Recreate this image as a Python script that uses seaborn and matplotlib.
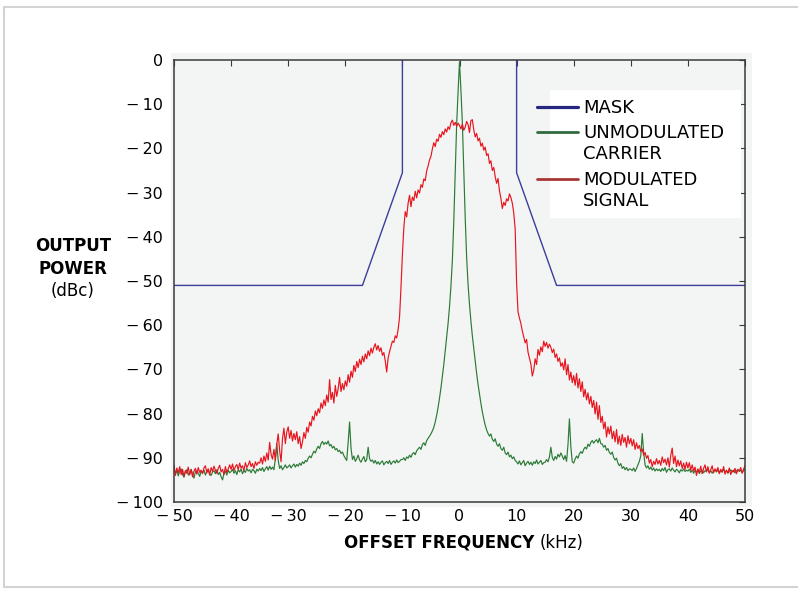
import numpy as np
import pandas as pd
import matplotlib
matplotlib.use("Agg")
import matplotlib.pyplot as plt
import seaborn as sns
from matplotlib.lines import Line2D
from matplotlib.patches import Rectangle

# ---------------- data ----------------
# offset frequency grid (kHz), 0.25 kHz spacing
freq_khz = np.round(np.arange(-50, 50.001, 0.25), 2)

# unmodulated carrier (dBc), 20 samples per 5 kHz row
carrier_dbc = [
    -92.4, -93.6, -92.8, -94.1, -93.0, -92.5, -93.8, -94.4, -93.1, -92.7, -93.9, -93.3, -92.6, -93.7, -94.6, -93.2, -92.9, -93.5, -94.2, -93.0,
    -93.4, -92.8, -93.9, -93.1, -92.6, -93.7, -94.0, -93.2, -92.9, -93.6, -92.7, -93.8, -93.3, -94.3, -95.0, -93.6, -93.0, -93.9, -92.8, -93.4,
    -93.1, -92.6, -93.5, -92.9, -93.8, -92.7, -93.2, -92.5, -93.6, -92.9, -93.3, -92.4, -93.0, -92.7, -93.4, -92.6, -92.9, -93.5, -92.6, -93.0,
    -92.4, -92.9, -92.2, -93.1, -92.5, -92.0, -92.8, -91.9, -92.6, -92.1, -92.7, -90.2, -86.8, -90.6, -92.4, -91.8, -92.7, -92.2, -91.6, -92.3,
    -92.0, -91.6, -92.3, -91.8, -91.4, -92.1, -91.5, -91.9, -91.2, -91.7, -90.9, -91.3, -90.6, -90.9, -90.1, -89.6, -90.0, -89.2, -88.5, -88.9,
    -88.0, -87.4, -87.9, -86.8, -86.3, -87.0, -86.5, -86.9, -86.2, -87.3, -87.0, -87.8, -87.4, -88.2, -87.9, -88.6, -88.3, -89.0, -88.7, -89.5,
    -90.1, -90.6, -86.5, -81.9, -87.8, -90.4, -89.6, -90.8, -90.2, -89.4, -90.5, -91.0, -90.3, -89.7, -90.9, -90.4, -87.6, -90.2, -90.8, -90.5,
    -91.2, -90.6, -91.4, -90.9, -91.5, -91.0, -90.7, -91.6, -91.1, -90.8, -91.3, -90.6, -91.5, -91.0, -90.7, -91.2, -90.5, -91.1, -90.8, -90.4,
    -90.4, -90.0, -90.6, -89.8, -90.1, -89.4, -89.9, -89.1, -88.8, -89.3, -88.4, -88.0, -87.6, -88.1, -87.0, -86.6, -87.2, -86.1, -85.6, -85.1,
    -84.6, -83.9, -83.1, -81.9, -80.4, -78.6, -76.5, -74.2, -71.6, -68.9, -65.8, -62.7, -59.6, -55.8, -51.2, -45.3, -36.5, -25.4, -14.6, -7.2,
    -0.4, -6.8, -14.2, -24.8, -35.7, -44.6, -50.8, -55.3, -59.1, -62.4, -65.3, -68.2, -70.9, -73.4, -75.6, -77.7, -79.6, -81.2, -82.6, -83.7,
    -84.5, -85.1, -84.6, -85.8, -86.3, -85.7, -86.9, -87.4, -86.8, -87.9, -88.3, -87.6, -88.9, -89.3, -88.7, -89.8, -89.4, -90.2, -89.8, -90.6,
    -90.9, -91.4, -90.7, -91.6, -91.1, -90.6, -91.8, -91.2, -90.8, -91.5, -91.0, -91.7, -90.9, -91.3, -90.5, -91.4, -91.0, -90.6, -91.5, -91.1,
    -91.0, -90.4, -90.9, -89.8, -87.6, -89.9, -90.6, -89.7, -90.3, -89.2, -89.8, -88.9, -89.6, -90.4, -89.5, -90.8, -87.0, -81.2, -87.5, -90.9,
    -91.2, -90.3, -89.6, -90.1, -89.1, -88.6, -89.0, -88.1, -87.6, -88.0, -86.9, -87.4, -86.5, -86.1, -86.7, -86.2, -85.9, -86.6, -85.6, -86.8,
    -86.9, -87.6, -87.2, -88.3, -87.9, -88.8, -89.2, -88.7, -89.9, -90.5, -90.1, -91.2, -91.8, -91.3, -92.4, -92.0, -92.7, -92.2, -92.9, -92.5,
    -92.6, -92.9, -92.3, -93.1, -92.4, -91.6, -90.8, -89.5, -84.5, -88.7, -91.6, -92.3, -91.8, -92.6, -92.1, -92.8, -92.3, -93.0, -92.5, -92.9,
    -92.6, -93.1, -92.4, -92.9, -92.2, -93.3, -92.7, -92.5, -93.0, -92.3, -92.8, -93.2, -92.6, -92.9, -93.4, -92.7, -93.0, -92.5, -93.1, -92.8,
    -93.0, -92.6, -93.3, -92.8, -93.5, -92.9, -93.2, -92.7, -93.6, -93.0, -92.8, -93.4, -92.9, -93.1, -92.6, -93.3, -92.9, -93.5, -93.0, -92.7,
    -93.2, -92.8, -93.4, -92.9, -93.1, -92.6, -93.3, -92.9, -93.5, -93.0, -92.7, -93.2, -92.8, -93.4, -93.0, -92.6, -93.1, -92.8, -93.3, -92.9,
    -92.7,
]

# modulated signal (dBc)
modulated_dbc = [
    -91.6, -94.0, -92.3, -93.4, -92.0, -93.8, -92.6, -94.2, -92.9, -93.5, -92.1, -93.9, -92.7, -94.3, -93.0, -92.4, -93.7, -92.2, -93.3, -92.8,
    -93.6, -92.3, -91.8, -93.4, -92.5, -93.9, -92.2, -93.1, -91.9, -92.8, -93.5, -92.4, -91.7, -93.2, -92.6, -93.8, -92.0, -93.3, -92.5, -91.6,
    -92.6, -91.4, -92.9, -92.0, -91.5, -92.7, -91.2, -92.3, -91.8, -92.9, -91.1, -92.2, -91.6, -90.7, -92.0, -91.3, -92.4, -90.9, -91.7, -91.0,
    -91.2, -90.0, -91.4, -89.6, -90.8, -88.9, -90.5, -86.5, -89.2, -90.3, -88.1, -90.6, -86.9, -84.6, -88.4, -90.9, -85.7, -83.3, -86.8, -84.2,
    -83.0, -85.6, -83.8, -86.2, -84.5, -85.9, -84.1, -86.8, -85.2, -87.9, -86.4, -84.3, -85.6, -83.1, -84.2, -81.9, -82.8, -80.6, -81.5, -79.4,
    -80.5, -78.9, -79.8, -77.6, -78.8, -76.9, -78.2, -75.8, -77.4, -72.3, -76.8, -75.2, -77.6, -73.6, -76.1, -74.4, -71.8, -75.0, -73.2, -74.6,
    -72.6, -73.8, -71.2, -72.9, -70.4, -71.8, -69.1, -70.5, -68.2, -69.6, -67.7, -68.9, -67.0, -68.3, -66.5, -67.6, -65.8, -66.9, -65.2, -66.3,
    -65.0, -64.2, -65.6, -64.6, -65.9, -65.1, -66.8, -66.2, -68.1, -70.6, -67.4, -66.0, -64.8, -63.6, -63.9, -62.4, -62.9, -61.0, -58.2, -51.5,
    -44.0, -38.0, -34.3, -35.5, -32.4, -30.6, -33.2, -31.0, -31.8, -29.7, -31.2, -29.4, -30.1, -28.2, -28.8, -26.9, -27.3, -25.1, -24.0, -22.6,
    -21.8, -20.1, -18.7, -19.6, -17.9, -18.4, -16.8, -17.5, -16.2, -16.9, -15.6, -16.3, -15.1, -15.7, -14.2, -13.6, -14.8, -14.1, -15.0, -14.3,
    -14.8, -15.6, -14.5, -15.9, -15.2, -13.9, -14.6, -16.4, -13.7, -13.5, -15.8, -17.4, -16.6, -18.3, -17.7, -19.5, -18.8, -20.4, -19.7, -21.6,
    -21.2, -23.4, -22.8, -25.0, -24.3, -26.4, -27.9, -26.8, -29.6, -31.3, -33.6, -32.2, -32.9, -31.4, -31.9, -30.3, -31.1, -32.4, -34.6, -38.2,
    -50.5, -57.0, -58.4, -59.6, -61.3, -62.6, -64.0, -63.2, -66.1, -67.4, -68.8, -71.5, -70.2, -67.6, -68.9, -65.5, -66.8, -64.9, -66.0, -63.6,
    -64.8, -63.9, -65.2, -64.3, -65.0, -66.2, -65.4, -67.3, -66.5, -68.2, -67.4, -69.3, -68.5, -70.1, -67.6, -71.2, -68.9, -72.4, -70.6, -73.0,
    -71.4, -73.6, -70.9, -74.2, -72.1, -75.0, -72.8, -76.2, -74.5, -76.9, -75.3, -77.8, -76.1, -78.6, -77.0, -80.1, -77.4, -81.3, -78.2, -82.0,
    -80.6, -83.4, -81.9, -85.3, -83.0, -84.6, -82.8, -85.7, -84.0, -86.4, -83.6, -86.9, -85.1, -87.2, -84.7, -86.5, -85.4, -87.6, -85.0, -86.8,
    -85.6, -87.3, -85.9, -88.1, -86.6, -87.9, -87.2, -88.6, -88.0, -89.4, -88.8, -90.1, -89.5, -91.2, -90.4, -92.0, -90.8, -91.5, -90.2, -91.4,
    -90.6, -91.7, -89.8, -91.1, -90.3, -91.6, -90.0, -92.1, -89.4, -87.8, -91.3, -89.6, -92.0, -90.5, -91.8, -90.7, -92.4, -91.2, -92.6, -91.0,
    -92.3, -91.1, -92.8, -91.6, -93.0, -92.1, -94.0, -92.5, -93.3, -91.9, -93.6, -92.4, -91.6, -93.2, -92.0, -93.5, -92.7, -91.8, -93.4, -92.5,
    -93.1, -92.2, -93.6, -92.6, -93.3, -92.0, -93.7, -92.8, -93.4, -92.3, -93.8, -92.9, -93.2, -92.4, -93.6, -92.7, -93.0, -92.2, -93.5, -92.6,
    -91.8,
]

# spectral mask: two separate segments
mask_khz = [-50, -17, -10, -10, 10, 10, 17, 50]
mask_dbc = [-51, -51, -25.5, 0, 0, -25.5, -51, -51]
mask_seg = [0, 0, 0, 0, 1, 1, 1, 1]

legend_labels = ["MASK", "UNMODULATED\nCARRIER", "MODULATED\nSIGNAL"]
x_ticks = [-50, -40, -30, -20, -10, 0, 10, 20, 30, 40, 50]
y_ticks = [0, -10, -20, -30, -40, -50, -60, -70, -80, -90, -100]

assert len(carrier_dbc) == len(freq_khz) == len(modulated_dbc)

# ---------------- style ----------------
sns.set_style("white")
plt.rcParams["font.family"] = ["DejaVu Sans"]
plt.rcParams["text.color"] = "black"
plt.rcParams["axes.labelcolor"] = "black"

BG = "#f3f5f4"
MASK_C = "#3d3d9c"
GREEN_C = "#2b7a36"
RED_C = "#e8141e"
MASK_LEG = "#26267f"
GREEN_LEG = "#2f6a3d"
RED_LEG = "#a93434"
SPINE = "#3a3a3a"

W, H = 798, 589
fig = plt.figure(figsize=(W / 100, H / 100), dpi=100)
fig.patch.set_facecolor("white")


def fx(px):
    return px / W


def fy(py):
    return 1 - py / H


# outer frame lines
for xs, ys in [([fx(4), fx(4)], [fy(7), fy(587)]),
               ([fx(4), 1.0], [fy(7), fy(7)]),
               ([fx(4), 1.0], [fy(587), fy(587)])]:
    fig.add_artist(Line2D(xs, ys, transform=fig.transFigure, color="#d3d3d3", lw=1.5))

# light panel behind the axes
fig.add_artist(Rectangle((fx(171), fy(507)), fx(752) - fx(171), fy(53) - fy(507),
                         transform=fig.transFigure, fc=BG, ec="none", zorder=0))

ax = fig.add_axes([fx(174), fy(502), fx(745) - fx(174), fy(60) - fy(502)])
ax.set_facecolor(BG)

mask_df = pd.DataFrame({"f": mask_khz, "p": mask_dbc, "seg": mask_seg})
sns.lineplot(data=mask_df, x="f", y="p", units="seg", estimator=None, sort=False,
             color=MASK_C, lw=1.0, ax=ax, legend=False)
sns.lineplot(x=freq_khz, y=carrier_dbc, estimator=None, sort=False,
             color=GREEN_C, lw=0.85, ax=ax, legend=False)
sns.lineplot(x=freq_khz, y=modulated_dbc, estimator=None, sort=False,
             color=RED_C, lw=0.85, ax=ax, legend=False)

ax.set_xlim(-50, 50)
ax.set_ylim(-100, 0)


def lab(v):
    return "0" if v == 0 else ("\u2212\u2009" + str(abs(v)) if v < 0 else str(v))


ax.set_xticks(x_ticks)
ax.set_xticklabels([lab(v) for v in x_ticks])
ax.set_yticks(y_ticks)
ax.set_yticklabels([lab(v) for v in y_ticks])
ax.tick_params(direction="in", length=4, width=0.8, color=SPINE,
               top=True, right=True, labelsize=11.5, labelcolor="black")
ax.tick_params(axis="y", pad=8)
ax.tick_params(axis="x", pad=5)
ax.set_xlabel("")
ax.set_ylabel("")
for s in ax.spines.values():
    s.set_color(SPINE)
    s.set_linewidth(1.1)

# legend: white panel plus frameless legend
ax.add_patch(Rectangle((0.6585, 0.6425), 0.3345, 0.2895, transform=ax.transAxes,
                       fc="white", ec="none", zorder=1.5))
handles = [Line2D([], [], color=MASK_LEG, lw=2.3),
           Line2D([], [], color=GREEN_LEG, lw=2.0),
           Line2D([], [], color=RED_LEG, lw=2.0)]
leg = ax.legend(handles, legend_labels, loc="upper left", bbox_to_anchor=(0.6357, 0.912),
                frameon=False, borderpad=0, borderaxespad=0, handlelength=2.27,
                handletextpad=0.28, labelspacing=0.42, fontsize=13)

# y label (three centred lines)
fig.text(fx(73), fy(251), "OUTPUT", ha="center", va="baseline", weight="bold", size=12)
fig.text(fx(73), fy(274), "POWER", ha="center", va="baseline", weight="bold", size=12)
fig.text(fx(73), fy(296), "(dBc)", ha="center", va="baseline", size=12)

# x label: bold part + regular unit, centred near x=464 px
renderer = fig.canvas.get_renderer()
t1 = fig.text(0, fy(548), "OFFSET FREQUENCY", ha="left", va="baseline", weight="bold", size=12)
t2 = fig.text(0, fy(548), "(kHz)", ha="left", va="baseline", size=12)
w1 = t1.get_window_extent(renderer).width
w2 = t2.get_window_extent(renderer).width
gap = 5
start = 464 - (w1 + gap + w2) / 2
t1.set_x(fx(start))
t2.set_x(fx(start + w1 + gap))

# align the handles of two-line labels with their first line
fig.canvas.draw()
r = fig.canvas.get_renderer()
texts = leg.get_texts()
lh = leg.legend_handles
tb0 = texts[0].get_window_extent(r)
hb0 = lh[0].get_window_extent(r)
off = (hb0.y0 + hb0.y1) / 2 - (tb0.y0 + tb0.y1) / 2
for t, h in zip(texts[1:], lh[1:]):
    tb = t.get_window_extent(r)
    hb = h.get_window_extent(r)
    target = tb.y1 - tb0.height / 2 + off
    dy_px = target - (hb.y0 + hb.y1) / 2
    h.set_ydata(np.asarray(h.get_ydata(), dtype=float) + dy_px * 72 / 100)

fig.savefig("out.png", dpi=100, facecolor="white")
